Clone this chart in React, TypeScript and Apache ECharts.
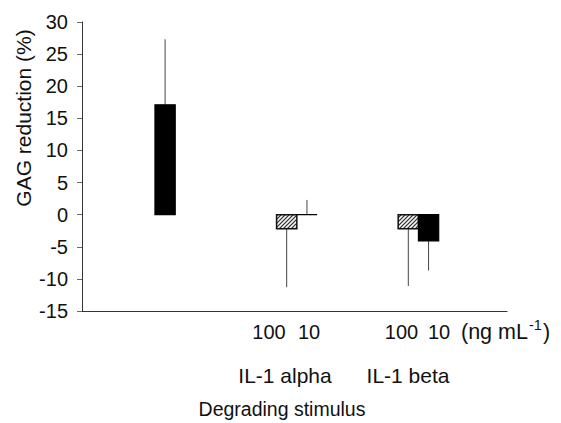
import React, { useEffect, useRef } from "react";
import * as echarts from "echarts";

// ---- data ----
const groups = ["Control", "IL-1 alpha", "IL-1 alpha", "IL-1 beta", "IL-1 beta"];
const doses = ["", "100", "10", "100", "10"];
const slots = [4, 10, 11, 16, 17];
const means = [17.1, -2.2, 0, -2.2, -4.1];
const signedErrors = [10.2, -9.1, 2.3, -8.9, -4.6];
const yTicks = { min: -15, max: 30, step: 5 };

const FONT = "'Liberation Sans', Arial, Helvetica, sans-serif";

function makeHatch(): HTMLCanvasElement {
  const c = document.createElement("canvas");
  c.width = 4;
  c.height = 4;
  const ctx = c.getContext("2d")!;
  ctx.fillStyle = "#f4f4f4";
  ctx.fillRect(0, 0, 4, 4);
  ctx.strokeStyle = "#2e2e2e";
  ctx.lineWidth = 1.2;
  ctx.beginPath();
  ctx.moveTo(-1, 5);
  ctx.lineTo(5, -1);
  ctx.moveTo(-1, 1);
  ctx.lineTo(1, -1);
  ctx.moveTo(3, 5);
  ctx.lineTo(5, 3);
  ctx.stroke();
  return c;
}

function txt(text: string, x: number, y: number, size: number, align = "center", extra: any = {}) {
  return {
    type: "text",
    x,
    y,
    silent: true,
    ...extra,
    style: {
      text,
      fill: "#111",
      font: `${size}px ${FONT}`,
      textAlign: align,
      textVerticalAlign: "middle",
      align,
      verticalAlign: "middle",
    },
  };
}

export default function App() {
  const ref = useRef<HTMLDivElement>(null);

  useEffect(() => {
    if (!ref.current) return;
    const chart = echarts.init(ref.current, null, { renderer: "svg" });
    const hatch = makeHatch();

    const data = slots.map((s, i) => ({
      name: `${groups[i]} ${doses[i]}`.trim(),
      value: [s, means[i], signedErrors[i], doses[i] === "100" ? 1 : 0],
    }));

    chart.setOption({
      animation: false,
      backgroundColor: "#ffffff",
      grid: { left: 82, right: 54, top: 22, bottom: 112, containLabel: false },
      xAxis: {
        type: "value",
        min: -0.1,
        max: 20.87,
        axisLine: { show: true, onZero: false, lineStyle: { color: "#333", width: 1 } },
        axisTick: { show: false },
        axisLabel: { show: false },
        splitLine: { show: false },
      },
      yAxis: {
        type: "value",
        min: yTicks.min,
        max: yTicks.max,
        interval: yTicks.step,
        axisLine: { show: true, onZero: false, lineStyle: { color: "#333", width: 1 } },
        axisTick: { show: true, length: 5, lineStyle: { color: "#666", width: 1 } },
        axisLabel: { fontSize: 20, color: "#111", fontFamily: FONT, margin: 14 },
        splitLine: { show: false },
      },
      series: [
        {
          type: "custom",
          data,
          clip: false,
          renderItem: (params: any, api: any) => {
            const x = api.value(0);
            const v = api.value(1);
            const e = api.value(2);
            const hatched = api.value(3) === 1;
            const base = api.coord([x, 0]);
            const top = api.coord([x, v]);
            const errEnd = api.coord([x, v + e]);
            const w = api.size([1, 0])[0];
            return {
              type: "group",
              children: [
                {
                  type: "line",
                  shape: { x1: top[0], y1: top[1], x2: errEnd[0], y2: errEnd[1] },
                  style: { stroke: "#444", lineWidth: 1 },
                },
                {
                  type: "rect",
                  shape: {
                    x: base[0] - w / 2,
                    y: Math.min(base[1], top[1]),
                    width: w,
                    height: Math.abs(top[1] - base[1]),
                  },
                  style: hatched
                    ? { fill: { image: hatch, repeat: "repeat" }, stroke: "#111", lineWidth: 1.5 }
                    : { fill: "#000", stroke: "#000", lineWidth: 1.2 },
                },
              ],
            };
          },
        },
      ],
      graphic: [
        txt("GAG reduction (%)", 23, 118, 21, "center", { rotation: Math.PI / 2 }),
        txt("100", 269, 332, 20),
        txt("10", 309, 332, 20),
        txt("100", 401.5, 332, 20),
        txt("10", 439, 332, 20),
        txt("(ng mL", 461, 332, 21.5, "left"),
        txt("-1", 529, 325, 14.5, "left"),
        txt(")", 543, 332, 21.5, "left"),
        txt("IL-1 alpha", 285, 375, 21),
        txt("IL-1 beta", 408, 375, 21),
        txt("Degrading stimulus", 282, 409, 19.5),
      ],
    });

    return () => chart.dispose();
  }, []);

  return (
    <div
      ref={ref}
      style={{ position: "fixed", left: 0, top: 0, width: 561, height: 423, background: "#fff" }}
    />
  );
}
